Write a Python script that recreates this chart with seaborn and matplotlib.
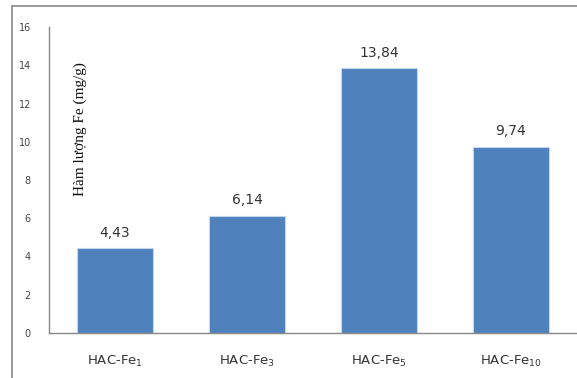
import matplotlib
matplotlib.use("Agg")
import matplotlib.pyplot as plt
from matplotlib.lines import Line2D
import seaborn as sns
import pandas as pd

# Iron content of the HAC-Fe samples
samples = ["HAC-Fe$_{1}$", "HAC-Fe$_{3}$", "HAC-Fe$_{5}$", "HAC-Fe$_{10}$"]
fe_content = [4.43, 6.14, 13.84, 9.74]
value_labels = ["4,43", "6,14", "13,84", "9,74"]
y_ticks = [0, 2, 4, 6, 8, 10, 12, 14, 16]

sns.set_style("white")
plt.rcParams["font.family"] = ["DejaVu Sans"]

df = pd.DataFrame({"sample": samples, "fe": fe_content})

fig = plt.figure(figsize=(5.77, 3.78), dpi=100)
ax = fig.add_axes([49 / 577, 45 / 378, 528 / 577, 306 / 378])

sns.barplot(data=df, x="sample", y="fe", color="#4F81BD", saturation=1,
            width=0.57, edgecolor="#C5D5EA", linewidth=0.8, ax=ax)

ax.set_ylim(0, 16)
ax.set_xlim(-0.5, 3.5)
ax.set_yticks(y_ticks)
ax.set_yticklabels([str(t) for t in y_ticks], fontsize=7, color="#444444")
ax.tick_params(axis="y", length=0, pad=13)
ax.tick_params(axis="x", length=0, pad=15, labelsize=9.5, labelcolor="#333333")
ax.set_xlabel("")
ax.set_ylabel("")

for s in ["top", "right"]:
    ax.spines[s].set_visible(False)
for s in ["left", "bottom"]:
    ax.spines[s].set_color("#888888")
    ax.spines[s].set_linewidth(1.0)

for i, (v, lab) in enumerate(zip(fe_content, value_labels)):
    ax.annotate(lab, (i, v), xytext=(0, 6), textcoords="offset points",
                ha="center", va="bottom", fontsize=10, color="#333333")

ax.text(0.059, 0.667, "Hàm lượng Fe (mg/g)", transform=ax.transAxes,
        rotation=90, ha="center", va="center", fontsize=11,
        family=["Liberation Serif", "DejaVu Serif"], color="#111111")

# outer frame around the chart area
fig.add_artist(Line2D([12 / 577, 12 / 577], [0, 1 - 6 / 378],
                      transform=fig.transFigure, color="#888888", lw=1.2))
fig.add_artist(Line2D([12 / 577, 1], [1 - 6 / 378, 1 - 6 / 378],
                      transform=fig.transFigure, color="#888888", lw=1.2))

fig.savefig("out.png", dpi=100)
